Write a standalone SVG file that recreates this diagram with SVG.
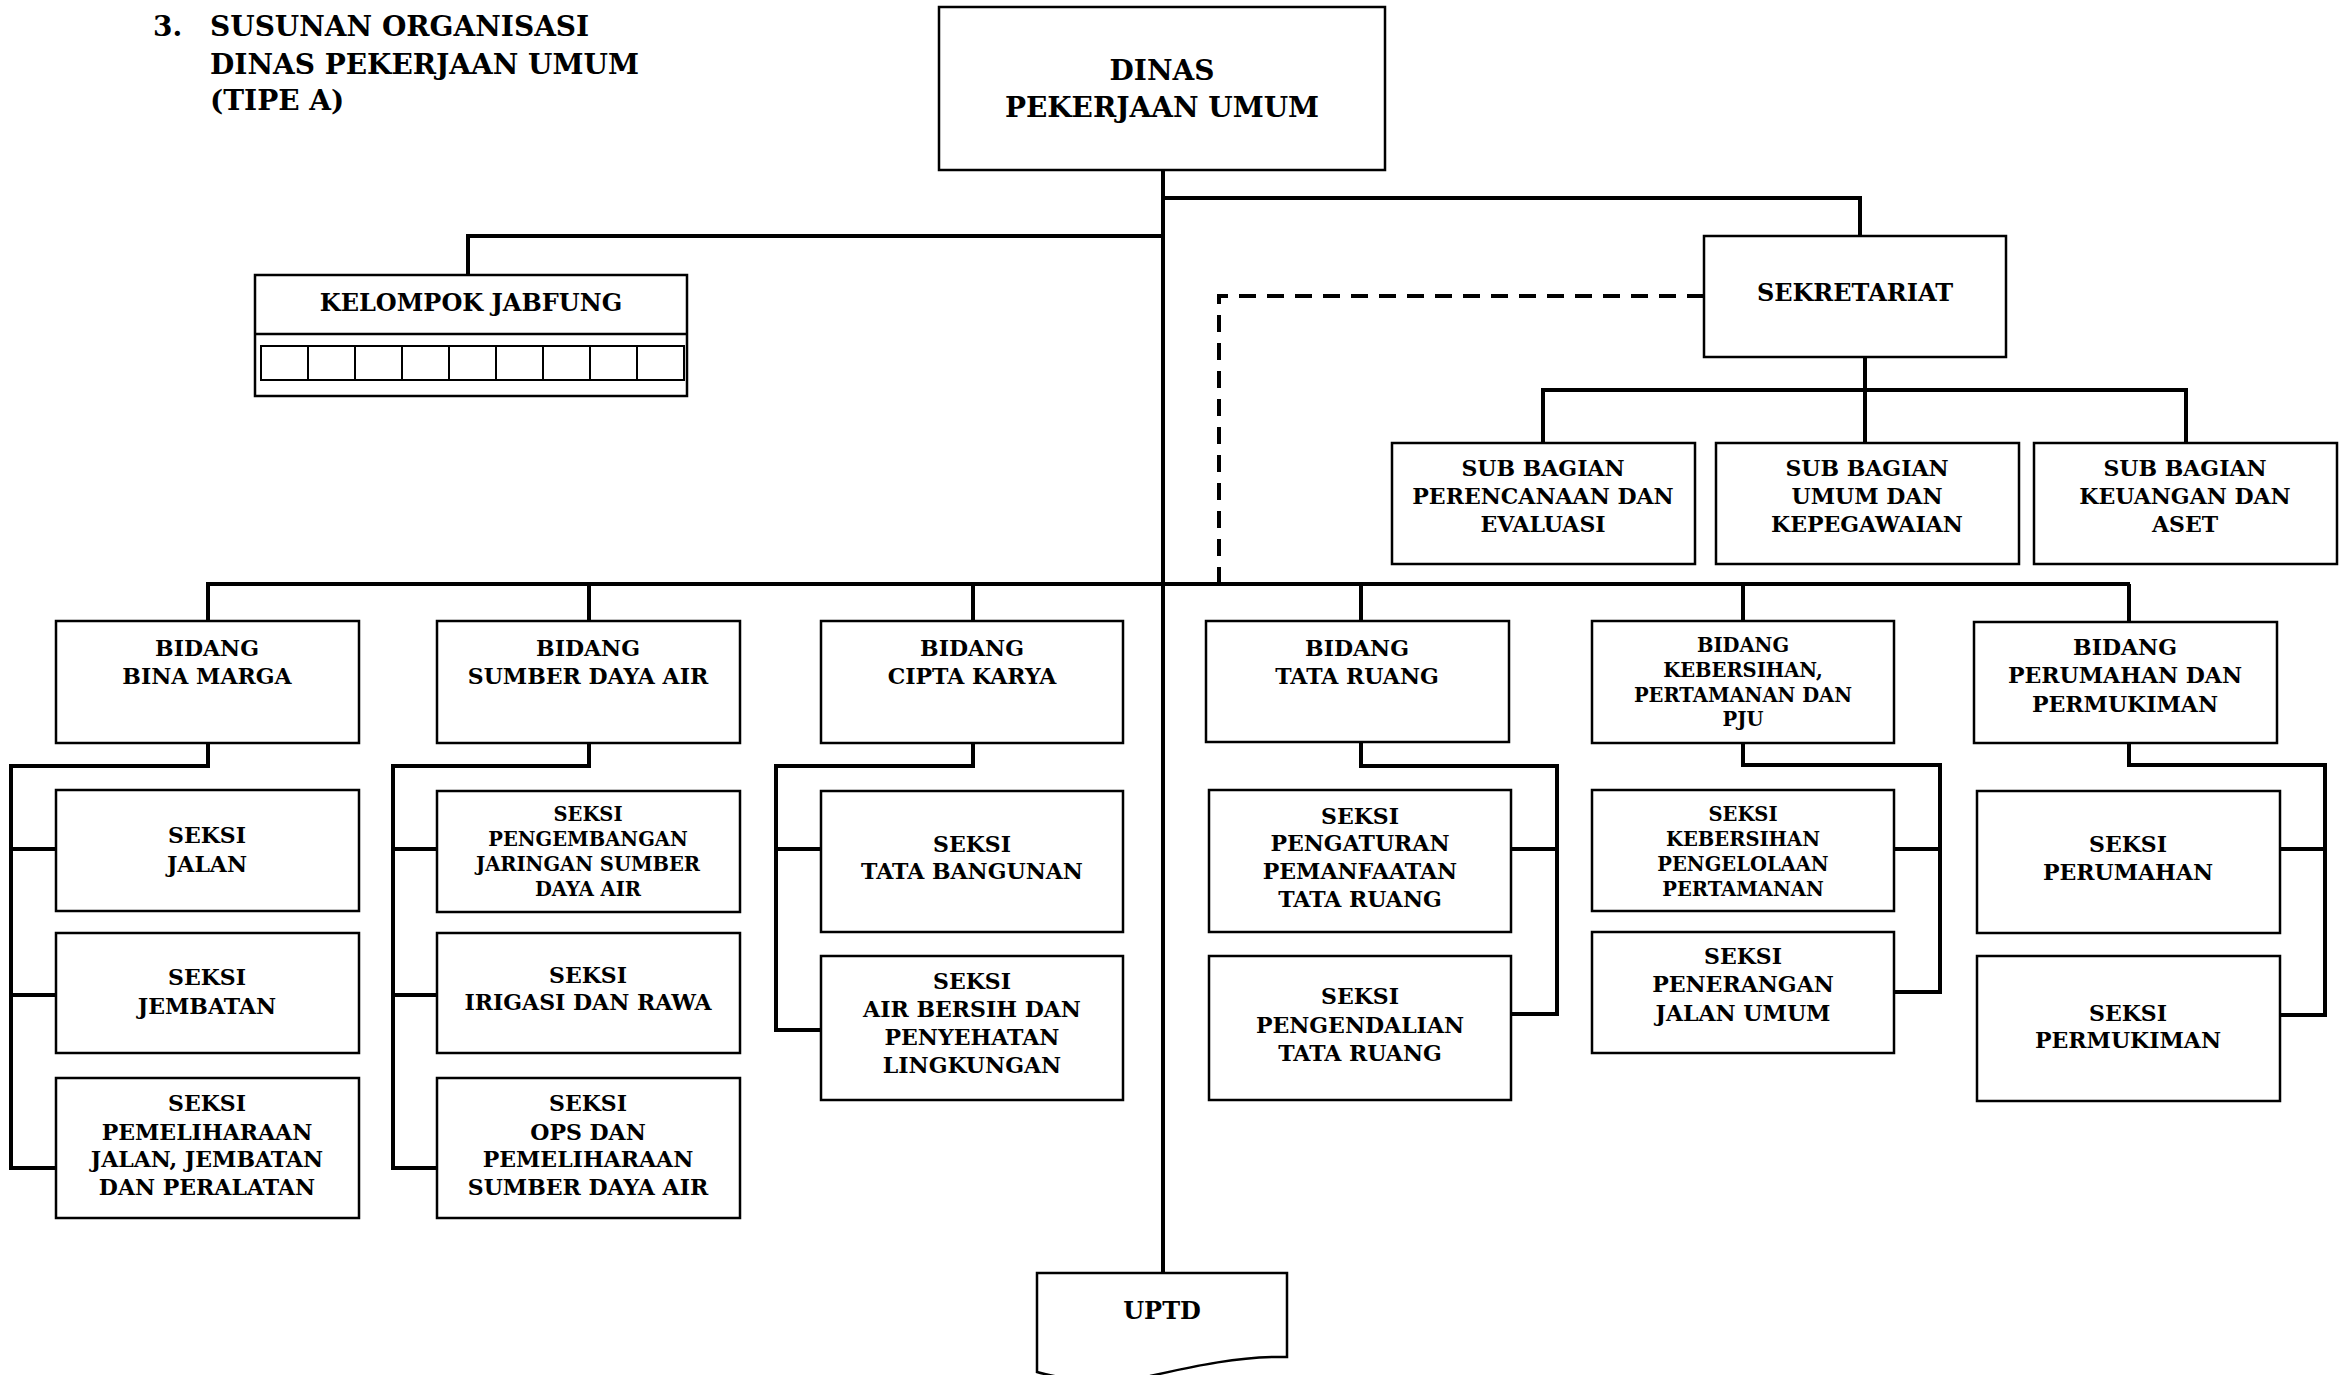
<svg xmlns="http://www.w3.org/2000/svg" width="2345" height="1375" viewBox="0 0 2345 1375">
  <style>
    .box { fill: #fff; stroke: #000; stroke-width: 2.5; }
    .cell { fill: none; stroke: #000; stroke-width: 2; }
    .link { fill: none; stroke: #000; stroke-width: 4; stroke-linejoin: miter; }
    .dash { fill: none; stroke: #000; stroke-width: 4; stroke-dasharray: 17 11; }
    text { font-family: "DejaVu Serif", "Liberation Serif", serif; font-weight: bold; fill: #000; text-anchor: middle; }
    .title { text-anchor: start; font-size: 28px; }
    .f28 { font-size: 28px; }
    .f24 { font-size: 24px; }
    .f22 { font-size: 22px; }
    .f19 { font-size: 19.5px; }
  </style>
  <rect width="2345" height="1375" fill="#fff"/>

  <!-- heading -->
  <g id="heading">
    <text class="title" x="153" y="36">3.</text>
    <text class="title" x="210" y="36">SUSUNAN ORGANISASI</text>
    <text class="title" x="210" y="74">DINAS PEKERJAAN UMUM</text>
    <text class="title" x="210" y="110">(TIPE A)</text>
  </g>

  <!-- connectors -->
  <g id="connectors">
    <path class="link" d="M1163,170 V1273"/>
    <path class="link" d="M1163,236 H468 V275"/>
    <path class="link" d="M1163,198 H1860 V236"/>
    <path class="link" d="M1865,357 V443"/>
    <path class="link" d="M1543,443 V390 H2186 V443"/>
    <path class="dash" d="M1704,296 H1219 V584"/>
    <path class="link" d="M206,584 H2130"/>
    <path class="link" d="M208,584 V621 M589,584 V621 M973,584 V621 M1361,584 V621 M1743,584 V621 M2129,584 V621"/>
    <path class="link" d="M208,743 V766 H11 V1168 H56 M11,849 H56 M11,995 H56"/>
    <path class="link" d="M589,743 V766 H393 V1168 H437 M393,849 H437 M393,995 H437"/>
    <path class="link" d="M973,743 V766 H776 V1030 H821 M776,849 H821"/>
    <path class="link" d="M1361,742 V766 H1557 V1014 H1511 M1557,849 H1511"/>
    <path class="link" d="M1743,743 V765 H1940 V992 H1894 M1940,849 H1894"/>
    <path class="link" d="M2129,743 V765 H2325 V1015 H2280 M2325,849 H2280"/>
  </g>

  <!-- head office -->
  <g id="dinas">
    <rect class="box" x="939" y="7" width="446" height="163"/>
    <text class="f28"><tspan x="1162" y="80">DINAS</tspan><tspan x="1162" y="117">PEKERJAAN UMUM</tspan></text>
  </g>

  <g id="kelompok-jabfung">
    <rect class="box" x="255" y="275" width="432" height="121"/>
    <line x1="255" y1="334" x2="687" y2="334" stroke="#000" stroke-width="2.5"/>
    <rect class="cell" x="261" y="346" width="423" height="34"/>
    <path class="cell" d="M308,346 V380 M355,346 V380 M402,346 V380 M449,346 V380 M496,346 V380 M543,346 V380 M590,346 V380 M637,346 V380"/>
    <text class="f24" x="471" y="311">KELOMPOK JABFUNG</text>
  </g>

  <g id="sekretariat">
    <rect class="box" x="1704" y="236" width="302" height="121"/>
    <text class="f24" x="1855" y="301">SEKRETARIAT</text>
  </g>

  <g id="subbag-perencanaan">
    <rect class="box" x="1392" y="443" width="303" height="121"/>
    <text class="f22"><tspan x="1543" y="476">SUB BAGIAN</tspan><tspan x="1543" y="504">PERENCANAAN DAN</tspan><tspan x="1543" y="532">EVALUASI</tspan></text>
  </g>
  <g id="subbag-umum">
    <rect class="box" x="1716" y="443" width="303" height="121"/>
    <text class="f22"><tspan x="1867" y="476">SUB BAGIAN</tspan><tspan x="1867" y="504">UMUM DAN</tspan><tspan x="1867" y="532">KEPEGAWAIAN</tspan></text>
  </g>
  <g id="subbag-keuangan">
    <rect class="box" x="2034" y="443" width="303" height="121"/>
    <text class="f22"><tspan x="2185" y="476">SUB BAGIAN</tspan><tspan x="2185" y="504">KEUANGAN DAN</tspan><tspan x="2185" y="532">ASET</tspan></text>
  </g>

  <!-- bidang -->
  <g id="bidang-bina-marga">
    <rect class="box" x="56" y="621" width="303" height="122"/>
    <text class="f22"><tspan x="207" y="656">BIDANG</tspan><tspan x="207" y="684">BINA MARGA</tspan></text>
  </g>
  <g id="bidang-sda">
    <rect class="box" x="437" y="621" width="303" height="122"/>
    <text class="f22"><tspan x="588" y="656">BIDANG</tspan><tspan x="588" y="684">SUMBER DAYA AIR</tspan></text>
  </g>
  <g id="bidang-cipta-karya">
    <rect class="box" x="821" y="621" width="302" height="122"/>
    <text class="f22"><tspan x="972" y="656">BIDANG</tspan><tspan x="972" y="684">CIPTA KARYA</tspan></text>
  </g>
  <g id="bidang-tata-ruang">
    <rect class="box" x="1206" y="621" width="303" height="121"/>
    <text class="f22"><tspan x="1357" y="656">BIDANG</tspan><tspan x="1357" y="684">TATA RUANG</tspan></text>
  </g>
  <g id="bidang-kebersihan">
    <rect class="box" x="1592" y="621" width="302" height="122"/>
    <text class="f19"><tspan x="1743" y="652">BIDANG</tspan><tspan x="1743" y="677">KEBERSIHAN,</tspan><tspan x="1743" y="702">PERTAMANAN DAN</tspan><tspan x="1743" y="726">PJU</tspan></text>
  </g>
  <g id="bidang-perumahan">
    <rect class="box" x="1974" y="622" width="303" height="121"/>
    <text class="f22"><tspan x="2125" y="655">BIDANG</tspan><tspan x="2125" y="683">PERUMAHAN DAN</tspan><tspan x="2125" y="712">PERMUKIMAN</tspan></text>
  </g>

  <!-- seksi: bina marga -->
  <g id="seksi-jalan">
    <rect class="box" x="56" y="790" width="303" height="121"/>
    <text class="f22"><tspan x="207" y="843">SEKSI</tspan><tspan x="207" y="872">JALAN</tspan></text>
  </g>
  <g id="seksi-jembatan">
    <rect class="box" x="56" y="933" width="303" height="120"/>
    <text class="f22"><tspan x="207" y="985">SEKSI</tspan><tspan x="207" y="1014">JEMBATAN</tspan></text>
  </g>
  <g id="seksi-pemeliharaan-jalan">
    <rect class="box" x="56" y="1078" width="303" height="140"/>
    <text class="f22"><tspan x="207" y="1111">SEKSI</tspan><tspan x="207" y="1140">PEMELIHARAAN</tspan><tspan x="207" y="1167">JALAN, JEMBATAN</tspan><tspan x="207" y="1195">DAN PERALATAN</tspan></text>
  </g>

  <!-- seksi: sumber daya air -->
  <g id="seksi-pengembangan">
    <rect class="box" x="437" y="791" width="303" height="121"/>
    <text class="f19"><tspan x="588" y="821">SEKSI</tspan><tspan x="588" y="846">PENGEMBANGAN</tspan><tspan x="588" y="871">JARINGAN SUMBER</tspan><tspan x="588" y="896">DAYA AIR</tspan></text>
  </g>
  <g id="seksi-irigasi">
    <rect class="box" x="437" y="933" width="303" height="120"/>
    <text class="f22"><tspan x="588" y="983">SEKSI</tspan><tspan x="588" y="1010">IRIGASI DAN RAWA</tspan></text>
  </g>
  <g id="seksi-ops">
    <rect class="box" x="437" y="1078" width="303" height="140"/>
    <text class="f22"><tspan x="588" y="1111">SEKSI</tspan><tspan x="588" y="1140">OPS DAN</tspan><tspan x="588" y="1167">PEMELIHARAAN</tspan><tspan x="588" y="1195">SUMBER DAYA AIR</tspan></text>
  </g>

  <!-- seksi: cipta karya -->
  <g id="seksi-tata-bangunan">
    <rect class="box" x="821" y="791" width="302" height="141"/>
    <text class="f22"><tspan x="972" y="852">SEKSI</tspan><tspan x="972" y="879">TATA BANGUNAN</tspan></text>
  </g>
  <g id="seksi-air-bersih">
    <rect class="box" x="821" y="956" width="302" height="144"/>
    <text class="f22"><tspan x="972" y="989">SEKSI</tspan><tspan x="972" y="1017">AIR BERSIH DAN</tspan><tspan x="972" y="1045">PENYEHATAN</tspan><tspan x="972" y="1073">LINGKUNGAN</tspan></text>
  </g>

  <!-- seksi: tata ruang -->
  <g id="seksi-pengaturan">
    <rect class="box" x="1209" y="790" width="302" height="142"/>
    <text class="f22"><tspan x="1360" y="824">SEKSI</tspan><tspan x="1360" y="851">PENGATURAN</tspan><tspan x="1360" y="879">PEMANFAATAN</tspan><tspan x="1360" y="907">TATA RUANG</tspan></text>
  </g>
  <g id="seksi-pengendalian">
    <rect class="box" x="1209" y="956" width="302" height="144"/>
    <text class="f22"><tspan x="1360" y="1004">SEKSI</tspan><tspan x="1360" y="1033">PENGENDALIAN</tspan><tspan x="1360" y="1061">TATA RUANG</tspan></text>
  </g>

  <!-- seksi: kebersihan -->
  <g id="seksi-kebersihan">
    <rect class="box" x="1592" y="790" width="302" height="121"/>
    <text class="f19"><tspan x="1743" y="821">SEKSI</tspan><tspan x="1743" y="846">KEBERSIHAN</tspan><tspan x="1743" y="871">PENGELOLAAN</tspan><tspan x="1743" y="896">PERTAMANAN</tspan></text>
  </g>
  <g id="seksi-penerangan">
    <rect class="box" x="1592" y="932" width="302" height="121"/>
    <text class="f22"><tspan x="1743" y="964">SEKSI</tspan><tspan x="1743" y="992">PENERANGAN</tspan><tspan x="1743" y="1021">JALAN UMUM</tspan></text>
  </g>

  <!-- seksi: perumahan -->
  <g id="seksi-perumahan">
    <rect class="box" x="1977" y="791" width="303" height="142"/>
    <text class="f22"><tspan x="2128" y="852">SEKSI</tspan><tspan x="2128" y="880">PERUMAHAN</tspan></text>
  </g>
  <g id="seksi-permukiman">
    <rect class="box" x="1977" y="956" width="303" height="145"/>
    <text class="f22"><tspan x="2128" y="1021">SEKSI</tspan><tspan x="2128" y="1048">PERMUKIMAN</tspan></text>
  </g>

  <!-- technical unit (document shape) -->
  <g id="uptd">
    <path class="box" d="M1037,1372 V1273 H1287 V1357 C1240,1356 1195,1366 1150,1376 C1105,1384 1065,1380 1037,1372 Z"/>
    <text class="f24" x="1162" y="1319">UPTD</text>
  </g>
</svg>
